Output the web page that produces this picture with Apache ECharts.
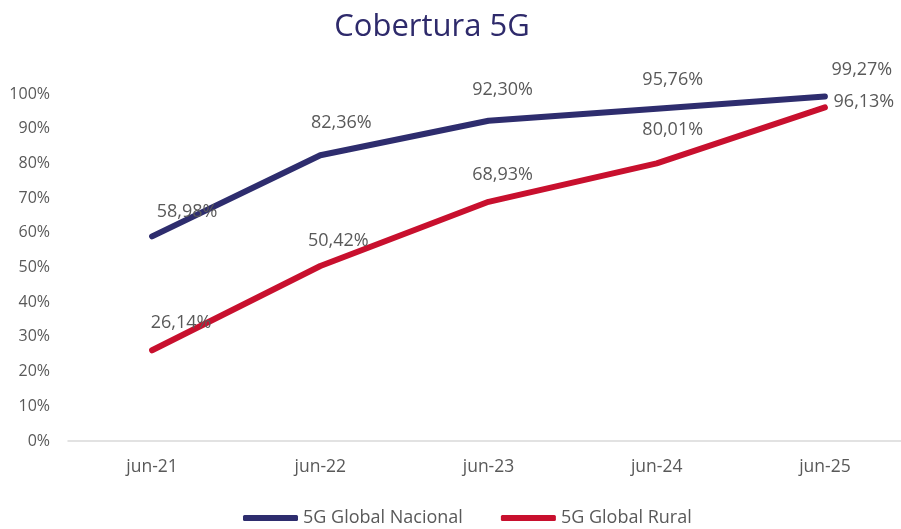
<!DOCTYPE html>
<html>
<head>
<meta charset="utf-8">
<script src="https://cdn.jsdelivr.net/npm/echarts@6/dist/echarts.min.js"></script>
<style>
  html, body { margin: 0; padding: 0; background: #fff; }
  #chart { width: 901px; height: 529px; }
</style>
</head>
<body>
<div id="chart"></div>
<script>
const categories = ['jun-21', 'jun-22', 'jun-23', 'jun-24', 'jun-25']
const nacional = [58.98, 82.36, 92.30, 95.76, 99.27]
const rural = [26.14, 50.42, 68.93, 80.01, 96.13]
const yTicks = [0, 10, 20, 30, 40, 50, 60, 70, 80, 90, 100]

// label offsets from each point (px)
const nacionalLabelOffsets = [[35, -24], [21, -32], [14, -31], [16, -29], [37, -27]]
const ruralLabelOffsets = [[29, -27], [18, -25], [14, -27], [16, -33], [39, -6]]

const fmt = (v) => v.toFixed(2).replace('.', ',') + '%'
const font = '"Open Sans", sans-serif'

const toData = (values, offsets) =>
  values.map((v, i) => ({
    value: v,
    label: { offset: offsets[i] }
  }))

const makeSeries = (name, values, offsets, color) => ({
  name: name,
  type: 'line',
  data: toData(values, offsets),
  symbol: 'circle',
  symbolSize: 1,
  showSymbol: true,
  itemStyle: { color: color },
  lineStyle: { width: 6, color: color, cap: 'round', join: 'round' },
  label: {
    show: true,
    position: 'inside',
    formatter: (p) => fmt(p.value),
    color: '#595959',
    fontSize: 18,
    fontFamily: font
  },
  emphasis: { disabled: true },
  animation: false
})

const myChart = echarts.init(document.getElementById('chart'))

const option = {
  title: {
    text: 'Cobertura 5G',
    left: 427,
    top: 7,
    textAlign: 'center',
    textStyle: {
      color: '#2E2A6B',
      fontSize: 31,
      fontWeight: 'normal',
      fontFamily: font
    }
  },
  grid: {
    left: 68,
    right: -8,
    top: 94,
    bottom: 88,
    outerBoundsMode: 'none'
  },
  legend: {
    bottom: -3,
    left: 238,
    icon: 'roundRect',
    itemWidth: 55,
    itemHeight: 6,
    itemGap: 38,
    textStyle: { color: '#595959', fontSize: 18, fontFamily: font },
    data: ['5G Global Nacional', '5G Global Rural']
  },
  xAxis: {
    type: 'category',
    data: categories,
    boundaryGap: true,
    axisTick: { show: false },
    axisLine: { show: true, lineStyle: { color: '#D9D9D9', width: 1.5 } },
    axisLabel: { color: '#595959', fontSize: 17.5, fontFamily: font, margin: 17 }
  },
  yAxis: {
    type: 'value',
    min: yTicks[0],
    max: yTicks[yTicks.length - 1],
    interval: yTicks[1] - yTicks[0],
    splitLine: { show: false },
    axisLine: { show: false },
    axisTick: { show: false },
    axisLabel: {
      color: '#595959',
      fontSize: 16,
      fontFamily: font,
      margin: 18,
      formatter: (v) => v + '%'
    }
  },
  series: [
    makeSeries('5G Global Nacional', nacional, nacionalLabelOffsets, '#2E2D6E'),
    makeSeries('5G Global Rural', rural, ruralLabelOffsets, '#C8102E')
  ]
}
myChart.setOption(option)

window.addEventListener('resize', function () {
  myChart.resize()
})
</script>
</body>
</html>
